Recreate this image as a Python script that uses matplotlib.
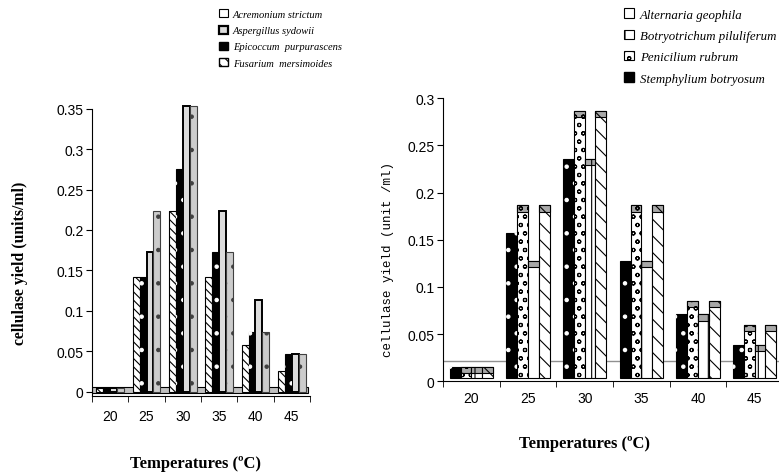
import numpy as np
import matplotlib.pyplot as plt
from matplotlib.patches import Patch

# categories
temps = ['20', '25', '30', '35', '40', '45']

# left panel (bar order left->right inside each group)
fusarium = [0.005, 0.142, 0.224, 0.142, 0.058, 0.026]
epicoccum = [0.005, 0.142, 0.275, 0.173, 0.074, 0.047]
aspergillus = [0.005, 0.173, 0.353, 0.224, 0.114, 0.047]
acremonium = [0.005, 0.224, 0.353, 0.173, 0.074, 0.047]

# right panel
stemphylium = [0.0155, 0.157, 0.236, 0.128, 0.071, 0.039]
penicilium = [0.0155, 0.187, 0.287, 0.187, 0.0855, 0.060]
botryotrichum = [0.0155, 0.128, 0.236, 0.128, 0.071, 0.039]
alternaria = [0.0155, 0.187, 0.287, 0.187, 0.0855, 0.060]

yticksL = [0, 0.05, 0.1, 0.15, 0.2, 0.25, 0.3, 0.35]
yticksR = [0, 0.05, 0.1, 0.15, 0.2, 0.25, 0.3]

tickfont = ['Liberation Sans Narrow', 'Liberation Sans', 'DejaVu Sans']
serif = ['Liberation Serif', 'DejaVu Serif']

plt.rcParams['hatch.linewidth'] = 0.8

fig = plt.figure(figsize=(7.79, 4.77), dpi=100)
W, H = 779, 477
axL = fig.add_axes([92 / W, 1 - 397.3 / H, 218 / W, (397.3 - 104) / H])
axR = fig.add_axes([443 / W, 1 - 382.3 / H, 340 / W, (382.3 - 99.3) / H])

x = np.arange(len(temps))
bw = 0.19
offs = [-0.285, -0.095, 0.095, 0.285]


def hatched_bar(ax, xs, vals, base, face, edge, hatch, hcol, lw=0.8, z=3):
    h = np.array(vals) - base
    ax.bar(xs, h, bw, bottom=base, color=face, edgecolor=edge, linewidth=lw, zorder=z)
    if hatch:
        ax.bar(xs, h, bw, bottom=base, fill=False, edgecolor=hcol, hatch=hatch,
               linewidth=0, zorder=z + 0.1)


# ---- left chart ----
axL.axhspan(-0.001, 0.0055, xmin=0, xmax=0.99, facecolor='#c0c0c0',
            edgecolor='black', linewidth=0.8, zorder=1)
hatched_bar(axL, x + offs[0], fusarium, 0, 'white', 'black', '\\\\\\\\', 'black')
hatched_bar(axL, x + offs[1], epicoccum, 0, 'black', 'black', '.', 'white')
hatched_bar(axL, x + offs[2], aspergillus, 0, '#dcdcdc', 'black', None, None, lw=1.4)
hatched_bar(axL, x + offs[3], acremonium, 0, '#cccccc', '#404040', '.', '#404040')

handlesL = [
    Patch(facecolor='white', edgecolor='black', linewidth=0.8),
    Patch(facecolor='#dcdcdc', edgecolor='black', linewidth=1.6),
    Patch(facecolor='black', edgecolor='black'),
    Patch(facecolor='white', edgecolor='black', hatch='\\\\\\'),
]
labelsL = ['Acremonium strictum', 'Aspergillus sydowii',
           'Epicoccum  purpurascens', 'Fusarium  mersimoides']
fig.legend(handlesL, labelsL, loc='upper left', bbox_to_anchor=(214 / W, 1 - 5 / H),
           frameon=False, prop={'family': serif, 'style': 'italic', 'size': 7.6},
           handlelength=0.8, handleheight=0.8, handletextpad=0.5, labelspacing=0.62,
           borderpad=0)

axL.set_xlim(-0.5, 5.5)
axL.set_ylim(-0.0056, 0.357)
axL.spines['left'].set_bounds(-0.0056, 0.35)
axL.set_yticks(yticksL)
axL.set_yticklabels(['0', '0.05', '0.1', '0.15', '0.2', '0.25', '0.3', '0.35'])
axL.set_xticks(x)
axL.set_xticklabels(temps)
axL.set_xticks(np.arange(-0.5, 6, 1), minor=True)
axL.tick_params(axis='x', which='major', length=0, pad=9)
axL.tick_params(axis='x', which='minor', length=4, direction='out')
axL.tick_params(axis='y', length=4, direction='out', pad=2)
axL.set_ylabel('cellulase yield (units/ml)', family=serif, fontweight='bold',
               fontsize=11.3)
axL.yaxis.set_label_coords(-(92 - 28) / 218, (397.3 - 263) / 293, transform=axL.transAxes)
axL.set_xlabel('Temperatures (ºC)', family=serif, fontweight='bold', fontsize=12)
axL.xaxis.set_label_coords((195 - 92) / 218, -(464 - 397.3) / 293, transform=axL.transAxes)
axL.xaxis.label.set_verticalalignment('center')

# ---- right chart ----
base = 0.004
cap = 0.007
axR.axhline(0.021, color='#909090', linewidth=1, zorder=0.5)
hatched_bar(axR, x + offs[0], stemphylium, base, 'black', 'black', '.', 'white')
hatched_bar(axR, x + offs[1], penicilium, base, 'white', 'black', 'oo', 'black')
hatched_bar(axR, x + offs[2], botryotrichum, base, 'white', 'black', '|', 'black')
hatched_bar(axR, x + offs[3], alternaria, base, 'white', 'black', '\\\\', 'black')
for k, (vals, hat) in enumerate([(penicilium, 'oo'), (botryotrichum, '|'),
                                 (alternaria, '\\\\')]):
    axR.bar(x + offs[k + 1], cap, bw, bottom=np.array(vals) - cap, color='#a8a8a8',
            edgecolor='black', linewidth=0.8, hatch=hat, zorder=4)

handlesR = [
    Patch(facecolor='white', edgecolor='black', linewidth=0.8),
    Patch(facecolor='white', edgecolor='black', hatch='|', linewidth=0.8),
    Patch(facecolor='white', edgecolor='black', hatch='oo', linewidth=0.8),
    Patch(facecolor='black', edgecolor='black'),
]
labelsR = ['Alternaria geophila', 'Botryotrichum piluliferum',
           'Penicilium rubrum', 'Stemphylium botryosum']
fig.legend(handlesR, labelsR, loc='upper left', bbox_to_anchor=(618 / W, 1 - 3 / H),
           frameon=False, prop={'family': serif, 'style': 'italic', 'size': 9.3},
           handlelength=0.75, handleheight=0.75, handletextpad=0.45, labelspacing=0.7,
           borderpad=0)

axR.set_xlim(-0.5, 5.5)
axR.set_ylim(0, 0.3)
axR.set_yticks(yticksR)
axR.set_yticklabels(['0', '0.05', '0.1', '0.15', '0.2', '0.25', '0.3'])
axR.set_xticks(x)
axR.set_xticklabels(temps)
axR.set_xticks(np.arange(-0.5, 6, 1), minor=True)
axR.tick_params(axis='x', which='major', length=0, pad=7)
axR.tick_params(axis='x', which='minor', length=4, direction='out')
axR.tick_params(axis='y', length=4, direction='out', pad=2)
axR.set_ylabel('cellulase yield (unit /ml)', family=['Liberation Mono', 'DejaVu Sans Mono'],
               fontsize=9)
axR.yaxis.set_label_coords(-(443 - 394) / 340, (382.3 - 260) / 283, transform=axR.transAxes)
axR.set_xlabel('Temperatures (ºC)', family=serif, fontweight='bold', fontsize=12)
axR.xaxis.set_label_coords((585 - 443) / 340, -(444 - 382.3) / 283, transform=axR.transAxes)
axR.xaxis.label.set_verticalalignment('center')

for ax in (axL, axR):
    ax.spines['top'].set_visible(False)
    ax.spines['right'].set_visible(False)
    for lab in ax.get_xticklabels() + ax.get_yticklabels():
        lab.set_family(tickfont)
        lab.set_fontsize(10)

fig.savefig('out.png', dpi=100)
